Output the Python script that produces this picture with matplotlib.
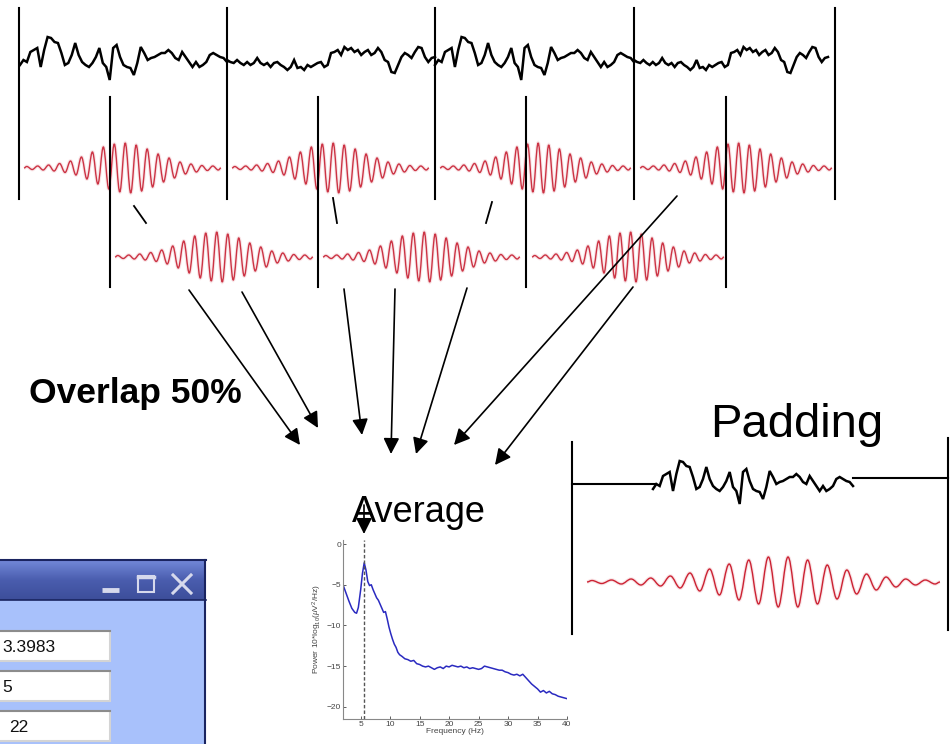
import numpy as np
import matplotlib
matplotlib.use('Agg')
import matplotlib.pyplot as plt
from matplotlib.path import Path
from matplotlib.patches import PathPatch, Rectangle, FancyArrowPatch
from matplotlib.colors import LinearSegmentedColormap

plt.rcParams['font.family'] = ['Liberation Sans', 'DejaVu Sans']
plt.rcParams['mathtext.fontset'] = 'custom'
plt.rcParams['mathtext.rm'] = 'Liberation Sans'
plt.rcParams['mathtext.it'] = 'Liberation Sans:italic'

# eeg traces, amplitude (up = positive)
eeg_active = [-7, -2, -4, 6, 8, 10, -9, 8, 21, 20, 16, 15, 5, -7, -5, 3, 15, 3, -4, -7,
              -9, -5, 1, 10, -5, -9, -22, 10, 13, 1, -7, -9, -10, -17, -5, 11, 5, -2, 0, 1,
              3, 5, 5, 8, 5, 0, -2, 6, 1, -4, -9, -4, -9, -7, -4, 3, 5, 3, 1, 0, -4]
eeg_quiet = [-2, -4, -5, -2, -5, -7, -4, -7, -5, 0, -5, -7, -5, -9, -5, -4, -7, -9, -12, -9,
             -2, -10, -9, -12, -7, -9, -7, -5, -4, -9, -7, 5, 6, 8, 3, 11, 8, 10, 6, 8,
             3, 6, 8, 3, 5, 10, 6, -2, -4, -14, -15, -7, 1, 5, 3, 0, 6, 11, 10, 1,
             -4, 0, 1]

# wavelet envelope, amplitude per cycle
taper_env = [1.5, 2, 3, 4.5, 7, 11, 16, 21, 24, 25, 23, 19, 14, 10, 6, 4, 2.5, 2]
padded_env = [1.5, 2, 3, 4, 6, 9, 13, 18, 22, 25, 25, 22, 17, 12, 8, 5, 3, 2]

# averaged spectrum
freq = [2.0, 2.5, 3.0, 3.5, 4.0, 4.3, 4.6, 5.0, 5.3, 5.6, 5.9, 6.2, 6.5, 6.8, 7.1, 7.4, 7.7,
        8.0, 8.3, 8.6, 8.9, 9.2, 9.5, 9.8, 10.1, 10.4, 10.7, 11.0, 11.3, 11.6, 12.0, 12.5,
        13.0, 13.5, 14.0, 14.5, 15.0, 15.5, 16.0, 16.5, 17.0, 17.5, 18.0, 18.5, 19.0, 19.5,
        20.0, 20.5, 21.0, 21.5, 22.0, 22.5, 23.0, 23.5, 24.0, 24.5, 25.0, 25.5, 26.0, 26.5,
        27.0, 27.5, 28.0, 28.5, 29.0, 29.5, 30.0, 30.5, 31.0, 31.5, 32.0, 32.5, 33.0, 33.5,
        34.0, 34.5, 35.0, 35.5, 36.0, 36.5, 37.0, 37.5, 38.0, 38.5, 39.0, 39.5, 40.0]
power = [-5.0, -6.0, -7.0, -7.9, -8.4, -8.5, -7.8, -5.6, -3.6, -2.3, -3.2, -4.6, -5.1, -5.0,
         -5.6, -6.1, -6.6, -6.9, -7.4, -7.9, -8.4, -8.3, -9.2, -10.2, -11.0, -11.7, -12.3,
         -12.7, -13.3, -13.6, -13.8, -14.1, -14.2, -14.4, -14.3, -14.7, -14.8, -15.0, -15.1,
         -15.0, -15.2, -15.4, -15.2, -15.1, -15.3, -15.0, -15.1, -14.9, -15.0, -15.1, -15.0,
         -15.2, -15.1, -15.3, -15.2, -15.3, -15.4, -15.3, -15.0, -15.1, -15.2, -15.3, -15.4,
         -15.5, -15.5, -15.7, -15.8, -16.0, -16.1, -16.0, -16.2, -16.0, -16.4, -16.8, -17.2,
         -17.5, -17.8, -18.2, -18.0, -18.3, -18.1, -18.4, -18.5, -18.7, -18.8, -18.9, -19.0]
peak_freq = 5.6

field_texts = ['3.3983', '5', '22']

fig = plt.figure(figsize=(9.52, 7.44), dpi=100)
ax = fig.add_axes([0, 0, 1, 1])


def draw_eeg(x0, x1, yc, vals):
    xs = np.linspace(x0, x1, len(vals))
    ax.plot(xs, yc - np.asarray(vals), color='black', lw=1.8, solid_joinstyle='miter')


def draw_wave(x0, x1, yc, env, color='#cc3344'):
    n = len(env)
    w = (x1 - x0) / n
    pts = [(x0, yc)]
    for i, a in enumerate(env):
        pts.append((x0 + w * (i + 0.25), yc - a))
        pts.append((x0 + w * (i + 0.75), yc + a))
    pts.append((x1, yc))
    verts = [pts[0]]
    codes = [Path.MOVETO]
    for (xa, ya), (xb, yb) in zip(pts[:-1], pts[1:]):
        d = 0.364 * (xb - xa)
        verts += [(xa + d, ya), (xb - d, yb), (xb, yb)]
        codes += [Path.CURVE4] * 3
    path = Path(verts, codes)
    # soft halo like the blurry original image
    ax.add_patch(PathPatch(path, fc='none', ec=color, lw=2.6, alpha=0.12))
    ax.add_patch(PathPatch(path, fc='none', ec=color, lw=1.0))


# top eeg, four windows
bounds = [20, 227, 435, 634, 828]
segs = [eeg_active, eeg_quiet, eeg_active, eeg_quiet]
for i, s in enumerate(segs):
    draw_eeg(bounds[i], bounds[i + 1], 58, s)

for x in [19, 227, 435, 634, 835]:
    ax.plot([x, x], [8, 199], color='black', lw=1.5)
for x in [110, 318, 526, 726]:
    ax.plot([x, x], [97, 287], color='black', lw=1.5)

# windowed data rows
for a, b in [(24, 221), (232, 429), (440, 631), (640, 832)]:
    draw_wave(a, b, 168, taper_env)
for a, b in [(115, 313), (323, 520), (532, 724)]:
    draw_wave(a, b, 257, taper_env)

# small connector ticks
for (xa, ya), (xb, yb) in [((134, 206), (146, 223)), ((333, 198), (337, 223)), ((492, 202), (486, 223))]:
    ax.plot([xa, xb], [ya, yb], color='black', lw=1.3)

# arrows towards the average
arrows = [((189, 290), (300, 445)), ((242, 292), (318, 428)), ((344, 289), (362, 435)),
          ((395, 289), (391, 454)), ((467, 288), (416, 454)), ((677, 196), (454, 445)),
          ((633, 287), (495, 465)), ((364, 505), (364, 534))]
for (xa, ya), (xb, yb) in arrows:
    ax.add_patch(FancyArrowPatch((xa, ya), (xb, yb), arrowstyle='-|>', mutation_scale=24,
                                 color='black', lw=1.2, shrinkA=0, shrinkB=0))

ax.text(29, 403, 'Overlap 50%', fontsize=25.5, fontweight='bold', va='baseline', ha='left')
ax.text(710, 437, 'Padding', fontsize=34, va='baseline', ha='left')
ax.text(352, 522, 'Average', fontsize=26, va='baseline', ha='left')

# padding panel
ax.plot([572, 572], [442, 634], color='black', lw=1.5)
ax.plot([948, 948], [438, 630], color='black', lw=1.5)
ax.plot([572, 655], [484, 484], color='black', lw=1.5)
ax.plot([853, 948], [478, 478], color='black', lw=1.5)
draw_eeg(653, 853, 482, eeg_active)
draw_wave(587, 940, 582, padded_env, color='#cc2233')

# window dialog
bar_cmap = LinearSegmentedColormap.from_list('bar', ['#7288d8', '#4a5dae', '#3d4e9a'])
ax.imshow(np.linspace(0, 1, 40).reshape(-1, 1), cmap=bar_cmap, extent=(-2, 205, 600, 560),
          aspect='auto', zorder=1)
ax.add_patch(Rectangle((-2, 600), 207, 150, fc='#a8c1fb', ec='none', zorder=1))
ax.plot([-2, 206], [560, 560], color='#1a2460', lw=1.5, zorder=2)
ax.plot([-2, 206], [600, 600], color='#1a2460', lw=1.2, zorder=2)
ax.plot([205, 205], [560, 750], color='#1a2460', lw=1.5, zorder=2)
ax.plot([102, 119], [590, 590], color='#d6d9ec', lw=3.5, solid_capstyle='butt', zorder=3)
ax.add_patch(Rectangle((138, 576), 16, 16, fc='none', ec='#d6d9ec', lw=1.5, zorder=3))
ax.plot([138, 154], [577, 577], color='#d6d9ec', lw=2.5, zorder=3)
ax.plot([173, 191], [575, 593], color='#d6d9ec', lw=2.2, zorder=3)
ax.plot([173, 191], [593, 575], color='#d6d9ec', lw=2.2, zorder=3)
for k, (y0, txt) in enumerate(zip([631, 671, 711], field_texts)):
    ax.add_patch(Rectangle((-2, y0), 112, 30, fc='white', ec='#d4d4d4', lw=1.5, zorder=2))
    ax.plot([-2, 110], [y0, y0], color='#8c8c8c', lw=1.5, zorder=3)
    tx = [2, 2, 9][k]
    ax.text(tx, y0 + 16, txt, fontsize=12.5, va='center', ha='left',
            color='#111111', zorder=4)

ax.set_xlim(0, 952)
ax.set_ylim(744, 0)
ax.axis('off')

# spectrum inset
sx = fig.add_axes([343 / 952, 1 - 719 / 744, (567 - 343) / 952, (719 - 540) / 744])
sx.plot(freq, power, color='#2a2ac0', lw=1.1)
sx.axvline(peak_freq, color='#555555', lw=1.0, ls=(0, (2.5, 1.5)))
sx.set_xlim(2, 40)
sx.set_ylim(-21.5, 0.5)
sx.set_xticks([5, 10, 15, 20, 25, 30, 35, 40])
sx.set_yticks([0, -5, -10, -15, -20])
sx.tick_params(direction='in', length=2, width=0.6, labelsize=6, colors='#444444', pad=1.5)
for sp in ['top', 'right']:
    sx.spines[sp].set_visible(False)
for sp in ['left', 'bottom']:
    sx.spines[sp].set_color('#888888')
    sx.spines[sp].set_linewidth(0.8)
sx.set_xlabel('Frequency (Hz)', fontsize=6, color='#444444', labelpad=0)
sx.set_ylabel(r'Power 10*log$_{10}$($\mu$V$^2$/Hz)', fontsize=6, color='#444444', labelpad=2)
sx.patch.set_alpha(0)

fig.savefig('out.png', dpi=100)
